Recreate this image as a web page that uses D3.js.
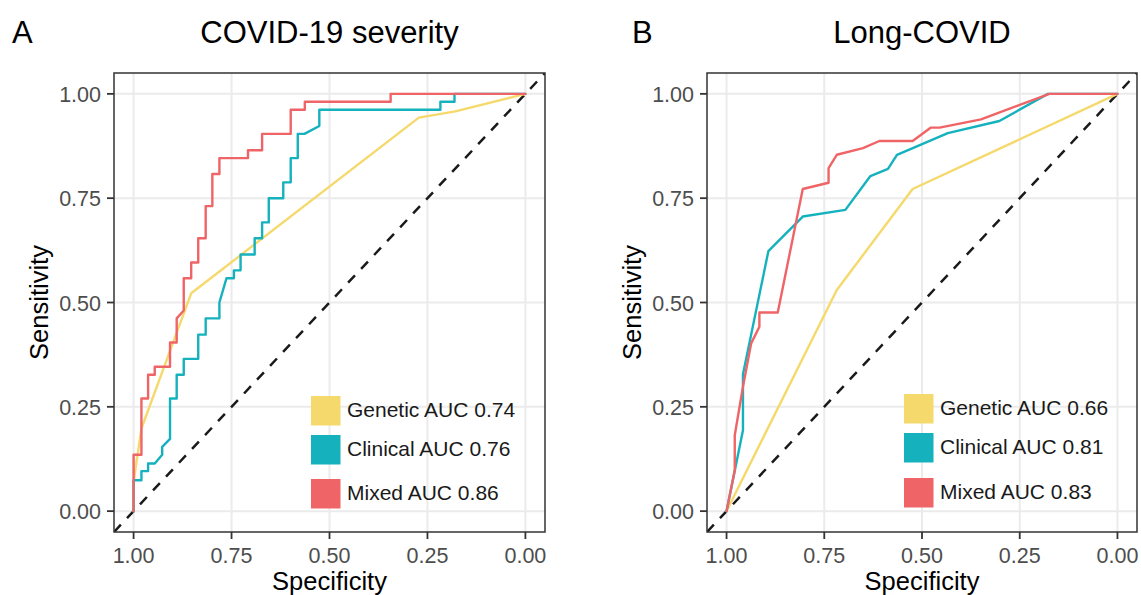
<!DOCTYPE html>
<html>
<head>
<meta charset="UTF-8">
<style>
  body { margin: 0; background: #fff; font-family: "Liberation Sans", Arial, sans-serif; }
  .tick-label { font-size: 21.5px; fill: #4d4d4d; }
  .axis-title { font-size: 25.5px; fill: #000; }
  .panel-title { font-size: 31px; fill: #000; }
  .legend-label { font-size: 21px; fill: #1a1a1a; }
</style>
</head>
<body>
<svg width="1141" height="595"></svg>
<script src="https://cdn.jsdelivr.net/npm/d3@7/dist/d3.min.js"></script>
<script>

// tick values and model names
const specTicks = [1, 0.75, 0.5, 0.25, 0];
const sensTicks = [0, 0.25, 0.5, 0.75, 1];
const modelNames = ["Genetic", "Clinical", "Mixed"];
const modelColors = ["#F5D96D", "#15B2BE", "#EF6467"];

// AUC values shown in the legends
const severityAUC = [0.74, 0.76, 0.86];
const longCovidAUC = [0.66, 0.81, 0.83];

// ROC curves, [specificity, sensitivity]
const severityGenetic = [[1,0],[1,0.07],[0.98,0.198],[0.853,0.522],[0.272,0.943],[0.179,0.958],[0,1]];
const severityClinical = [[1,0],[1,0.074],[0.98,0.074],[0.98,0.096],[0.963,0.096],[0.963,0.114],[0.946,0.114],
  [0.927,0.135],[0.927,0.154],[0.907,0.173],[0.907,0.27],[0.89,0.27],[0.89,0.327],[0.872,0.327],[0.872,0.365],
  [0.835,0.365],[0.835,0.423],[0.816,0.423],[0.816,0.462],[0.781,0.462],[0.781,0.5],[0.763,0.558],[0.744,0.558],
  [0.744,0.577],[0.727,0.577],[0.727,0.615],[0.691,0.615],[0.691,0.654],[0.672,0.654],[0.672,0.692],[0.655,0.692],
  [0.655,0.75],[0.618,0.75],[0.618,0.788],[0.599,0.788],[0.599,0.846],[0.581,0.846],[0.581,0.904],[0.564,0.904],
  [0.526,0.923],[0.526,0.962],[0.217,0.962],[0.217,0.981],[0.181,0.981],[0.181,1],[0,1]];
const severityMixed = [[1,0],[1,0.135],[0.98,0.135],[0.98,0.27],[0.963,0.27],[0.963,0.327],[0.946,0.327],
  [0.946,0.346],[0.907,0.346],[0.907,0.404],[0.89,0.404],[0.89,0.462],[0.872,0.481],[0.872,0.558],[0.853,0.558],
  [0.853,0.596],[0.835,0.596],[0.835,0.654],[0.816,0.654],[0.816,0.731],[0.799,0.731],[0.799,0.808],[0.781,0.808],
  [0.781,0.846],[0.708,0.846],[0.708,0.865],[0.672,0.865],[0.672,0.904],[0.599,0.904],[0.599,0.962],[0.563,0.962],
  [0.563,0.981],[0.344,0.981],[0.344,1],[0,1]];

const longGenetic = [[1,0],[0.718,0.53],[0.524,0.772],[0,1]];
const longClinical = [[1,0],[0.977,0.106],[0.958,0.194],[0.958,0.328],[0.893,0.623],[0.805,0.706],[0.696,0.722],
  [0.632,0.803],[0.587,0.82],[0.564,0.854],[0.434,0.906],[0.302,0.935],[0.178,1],[0,1]];
const longMixed = [[1,0],[0.979,0.098],[0.979,0.182],[0.958,0.298],[0.937,0.402],[0.916,0.442],[0.916,0.476],
  [0.869,0.476],[0.805,0.772],[0.739,0.787],[0.739,0.822],[0.718,0.854],[0.651,0.87],[0.609,0.887],[0.524,0.887],
  [0.478,0.919],[0.455,0.919],[0.349,0.939],[0.174,1],[0,1]];

const svg = d3.select("svg");
const plotTop = 73, plotBottom = 532;

const panels = [
  {letter: "A", letterX: 12, title: "COVID-19 severity", left: 114, right: 545,
   curves: [severityGenetic, severityClinical, severityMixed], auc: severityAUC, keyTops: [396, 435, 479]},
  {letter: "B", letterX: 632, title: "Long-COVID", left: 707, right: 1137,
   curves: [longGenetic, longClinical, longMixed], auc: longCovidAUC, keyTops: [394, 433, 478]}
];

panels.forEach(p => {
  let x = d3.scaleLinear().domain([1.05, -0.05]).range([p.left, p.right]);
  let y = d3.scaleLinear().domain([-0.05, 1.05]).range([plotBottom, plotTop]);
  let g = svg.append("g");

  // grid
  g.selectAll(".gx").data(specTicks).join("line")
    .attr("x1", d => x(d)).attr("x2", d => x(d))
    .attr("y1", plotTop).attr("y2", plotBottom)
    .attr("stroke", "#EBEBEB").attr("stroke-width", 2);
  g.selectAll(".gy").data(sensTicks).join("line")
    .attr("y1", d => y(d)).attr("y2", d => y(d))
    .attr("x1", p.left).attr("x2", p.right)
    .attr("stroke", "#EBEBEB").attr("stroke-width", 2);

  // chance line
  let clip = "clip" + p.letter;
  svg.append("clipPath").attr("id", clip).append("rect")
    .attr("x", p.left).attr("y", plotTop).attr("width", p.right - p.left).attr("height", plotBottom - plotTop);
  g.append("line")
    .attr("clip-path", "url(#" + clip + ")")
    .attr("x1", x(1.05)).attr("y1", y(-0.05))
    .attr("x2", x(-0.05)).attr("y2", y(1.05))
    .attr("stroke", "#1a1a1a").attr("stroke-width", 2.5)
    .attr("stroke-dasharray", "10,9").attr("stroke-linecap", "butt");

  // curves
  let line = d3.line().x(d => x(d[0])).y(d => y(d[1]));
  p.curves.forEach((c, i) => {
    g.append("path").attr("d", line(c))
      .attr("fill", "none").attr("stroke", modelColors[i])
      .attr("stroke-width", 2.4).attr("stroke-linejoin", "round").attr("stroke-linecap", "round");
  });

  // border
  g.append("rect").attr("x", p.left).attr("y", plotTop)
    .attr("width", p.right - p.left).attr("height", plotBottom - plotTop)
    .attr("fill", "none").attr("stroke", "#333").attr("stroke-width", 1.5);

  // x axis
  g.selectAll(".tx").data(specTicks).join("line")
    .attr("x1", d => x(d)).attr("x2", d => x(d))
    .attr("y1", plotBottom).attr("y2", plotBottom + 7)
    .attr("stroke", "#333").attr("stroke-width", 1.8);
  g.selectAll(".lx").data(specTicks).join("text")
    .attr("class", "tick-label")
    .attr("x", d => x(d)).attr("y", 562.5)
    .attr("text-anchor", "middle")
    .text(d => d3.format(".2f")(d));

  // y axis
  g.selectAll(".ty").data(sensTicks).join("line")
    .attr("y1", d => y(d)).attr("y2", d => y(d))
    .attr("x1", p.left - 7).attr("x2", p.left)
    .attr("stroke", "#333").attr("stroke-width", 1.8);
  g.selectAll(".ly").data(sensTicks).join("text")
    .attr("class", "tick-label")
    .attr("x", p.left - 13).attr("y", d => y(d) + 8)
    .attr("text-anchor", "end")
    .text(d => d3.format(".2f")(d));

  // axis titles
  g.append("text").attr("class", "axis-title")
    .attr("x", (p.left + p.right) / 2).attr("y", 589.5)
    .attr("text-anchor", "middle").text("Specificity");
  g.append("text").attr("class", "axis-title")
    .attr("transform", "translate(" + (p.left - 66) + "," + ((plotTop + plotBottom) / 2) + ") rotate(-90)")
    .attr("text-anchor", "middle").text("Sensitivity");

  // titles
  g.append("text").attr("class", "panel-title")
    .attr("x", p.letterX).attr("y", 43).text(p.letter);
  g.append("text").attr("class", "panel-title")
    .attr("x", (p.left + p.right) / 2).attr("y", 43)
    .attr("text-anchor", "middle").text(p.title);

  // legend
  let keyX = p.left + 197;
  modelNames.forEach((name, i) => {
    g.append("rect").attr("x", keyX).attr("y", p.keyTops[i])
      .attr("width", 29.5).attr("height", 29.5)
      .attr("fill", modelColors[i]);
    g.append("text").attr("class", "legend-label")
      .attr("x", keyX + 36).attr("y", p.keyTops[i] + 20.5)
      .text(name + " AUC " + d3.format(".2f")(p.auc[i]));
  });
});

</script>
</body>
</html>
